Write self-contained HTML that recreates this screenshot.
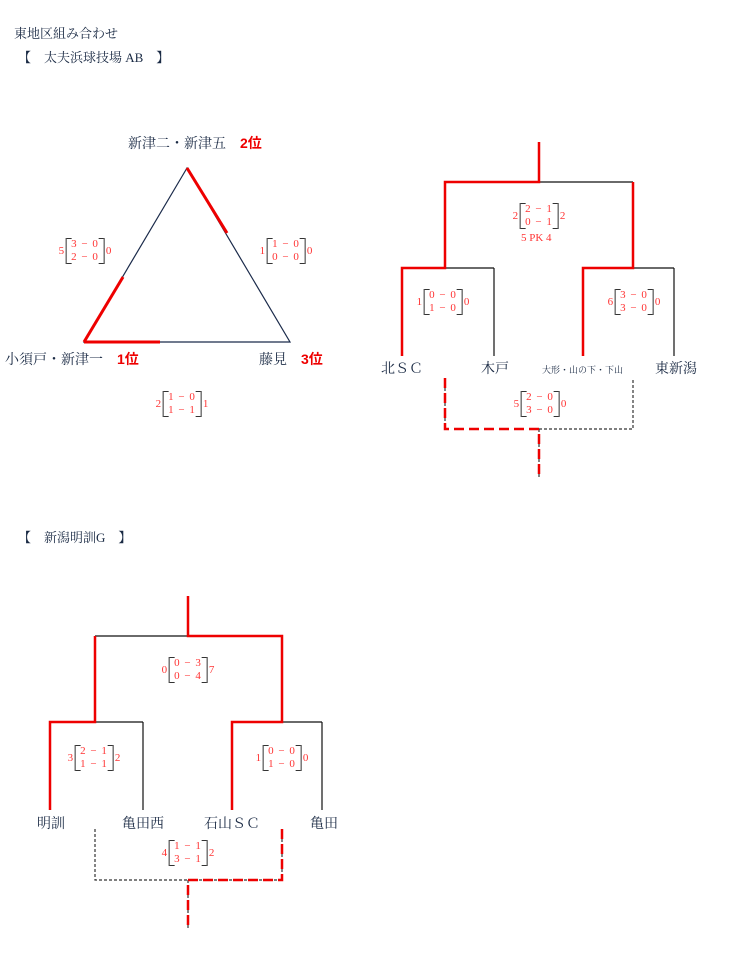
<!DOCTYPE html>
<html><head><meta charset="utf-8"><style>
body{margin:0;width:732px;height:966px;background:#fff;position:relative;font-family:"Liberation Serif","Noto Serif CJK SC",serif;color:#1a2a44;overflow:hidden}
.t{position:absolute;white-space:nowrap;font-size:13px;line-height:1}
.r{color:#e00;font-weight:bold;font-size:14px;font-family:"Liberation Sans","Noto Sans CJK JP",sans-serif}
.s{position:absolute;transform:translate(-50%,-50%);display:flex;align-items:center;color:#f33;font-size:11px;line-height:13px;white-space:nowrap}
.s .b{display:flex;flex-direction:column;padding:0 5px;margin:0 1px;border:1.5px solid #333;border-top:none;border-bottom:none;position:relative;text-align:center;letter-spacing:1px}
.s .b:before,.s .b:after{content:"";position:absolute;top:0;bottom:0;width:5px;border-top:1.5px solid #333;border-bottom:1.5px solid #333}
.s .b:before{left:0}.s .b:after{right:0}
</style></head><body>
<div class="t" style="left:14px;top:27px">東地区組み合わせ</div>
<div class="t" style="left:18px;top:51px">【　太夫浜球技場 AB　】</div>
<div class="t" style="left:18px;top:531px">【　新潟明訓G　】</div>

<svg width="732" height="966" style="position:absolute;left:0;top:0">
<g fill="none" stroke-width="1.2">
<polygon points="187,168 84,342 290,342" stroke="#1a2a4a"/>
<g stroke="#e00" stroke-width="3"><line x1="187" y1="168" x2="227" y2="233"/><line x1="84" y1="342" x2="123" y2="277"/><line x1="84" y1="342" x2="160" y2="342"/></g>
<g stroke="#111"><line x1="539" y1="182" x2="633" y2="182"/><line x1="445" y1="268" x2="494" y2="268"/><line x1="494" y1="268" x2="494" y2="356"/><line x1="633" y1="268" x2="674" y2="268"/><line x1="674" y1="268" x2="674" y2="356"/></g>
<g stroke="#e00" stroke-width="2.5"><polyline points="539,142 539,182 445,182 445,268 402,268 402,356"/><polyline points="633,182 633,268 583,268 583,356"/></g>
<g stroke="#333" stroke-dasharray="3,2"><polyline points="539,429 633,429 633,378"/><line x1="539" y1="429" x2="539" y2="478"/><line x1="445" y1="378" x2="445" y2="429"/></g>
<g stroke="#e00" stroke-width="2.5" stroke-dasharray="10,5"><polyline points="445,378 445,429 539,429 539,478"/></g>
<g stroke="#111"><line x1="95" y1="636" x2="188" y2="636"/><line x1="95" y1="722" x2="143" y2="722"/><line x1="143" y1="722" x2="143" y2="810"/><line x1="282" y1="722" x2="322" y2="722"/><line x1="322" y1="722" x2="322" y2="810"/></g>
<g stroke="#e00" stroke-width="2.5"><polyline points="188,596 188,636 282,636 282,722 232,722 232,810"/><polyline points="95,636 95,722 50,722 50,810"/></g>
<g stroke="#333" stroke-dasharray="3,2"><polyline points="95,829 95,880 188,880 282,880"/><line x1="188" y1="880" x2="188" y2="930"/><line x1="282" y1="829" x2="282" y2="880"/></g>
<g stroke="#e00" stroke-width="2.5" stroke-dasharray="10,5"><polyline points="282,829 282,880 188,880 188,930"/></g>
</g></svg>

<div class="t" style="left:128px;top:136px;font-size:14px">新津二・新津五　<span class="r">2位</span></div>
<div class="t" style="left:5px;top:352px;font-size:14px">小須戸・新津一　<span class="r">1位</span></div>
<div class="t" style="left:259px;top:352px;font-size:14px">藤見　<span class="r">3位</span></div>

<div class="s" style="left:85px;top:251px">5<div class="b"><span>3 − 0</span><span>2 − 0</span></div>0</div>
<div class="s" style="left:286px;top:251px">1<div class="b"><span>1 − 0</span><span>0 − 0</span></div>0</div>
<div class="s" style="left:182px;top:404px">2<div class="b"><span>1 − 0</span><span>1 − 1</span></div>1</div>

<div class="s" style="left:539px;top:216px">2<div class="b"><span>2 − 1</span><span>0 − 1</span></div>2</div>
<div class="t" style="left:521px;top:233px;font-size:11px;color:#f33">5 PK 4</div>
<div class="s" style="left:443px;top:302px">1<div class="b"><span>0 − 0</span><span>1 − 0</span></div>0</div>
<div class="s" style="left:634px;top:302px">6<div class="b"><span>3 − 0</span><span>3 − 0</span></div>0</div>
<div class="s" style="left:540px;top:404px">5<div class="b"><span>2 − 0</span><span>3 − 0</span></div>0</div>
<div class="t" style="left:381px;top:363px;font-size:14px">北ＳＣ</div>
<div class="t" style="left:481px;top:363px;font-size:14px">木戸</div>
<div class="t" style="left:542px;top:366px;font-size:9px">大形・山の下・下山</div>
<div class="t" style="left:655px;top:363px;font-size:14px">東新潟</div>

<div class="s" style="left:188px;top:670px">0<div class="b"><span>0 − 3</span><span>0 − 4</span></div>7</div>
<div class="s" style="left:94px;top:758px">3<div class="b"><span>2 − 1</span><span>1 − 1</span></div>2</div>
<div class="s" style="left:282px;top:758px">1<div class="b"><span>0 − 0</span><span>1 − 0</span></div>0</div>
<div class="s" style="left:188px;top:853px">4<div class="b"><span>1 − 1</span><span>3 − 1</span></div>2</div>
<div class="t" style="left:37px;top:818px;font-size:14px">明訓</div>
<div class="t" style="left:122px;top:818px;font-size:14px">亀田西</div>
<div class="t" style="left:204px;top:818px;font-size:14px">石山ＳＣ</div>
<div class="t" style="left:310px;top:818px;font-size:14px">亀田</div>
</body></html>
